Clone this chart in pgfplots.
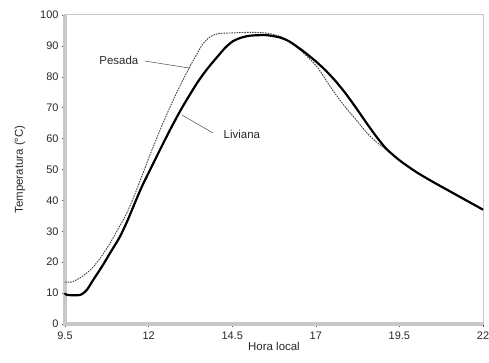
\documentclass[border=0pt]{standalone}
\usepackage{pgfplots}
\pgfplotsset{compat=1.18}
\usepackage{fontspec}
\setmainfont{Liberation Sans}
\definecolor{axgray}{RGB}{200,200,200}
\definecolor{txt}{RGB}{40,40,40}
\begin{document}
\begin{tikzpicture}
\begin{axis}[
  scale only axis,
  width=418bp, height=309bp,
  xmin=9.5, xmax=22, ymin=0, ymax=100,
  xtick={9.5,12,14.5,17,19.5,22},
  xticklabels={9.5,12,14.5,17,19.5,22},
  ytick={0,10,...,100},
  tick align=outside,
  major tick length=3bp,
  tick style={draw=black!70, line width=0.5bp},
  xtick pos=bottom, ytick pos=left,
  axis line style={draw=axgray, line width=1bp},
  /pgf/number format/assume math mode=true,
  ticklabel style={font=\fontsize{11}{12}\selectfont, text=txt},
  xticklabel style={yshift=-1bp},
  label style={font=\fontsize{11.5}{13}\selectfont, text=txt},
  xlabel={Hora local},
  ylabel={Temperatura (°C)},
  xlabel style={yshift=4bp},
  ylabel style={yshift=8bp},
  clip=false,
]
\draw[axgray, line width=4bp] (rel axis cs:0,1) -- (rel axis cs:0,0) -- (rel axis cs:1,0);
\addplot[black!75, line width=0.9bp, dash pattern=on 1.6bp off 1bp, smooth, tension=0.4] coordinates {
(9.5,13.6) (9.7,13.6) (9.95,14.9) (10.15,16.5) (10.34,18.4) (10.6,22) (10.85,26.2)
(11.1,31) (11.35,35.9) (11.6,42.3) (11.83,48.8) (12.1,56.3) (12.43,65) (12.8,74)
(13.18,82.2) (13.45,87.5) (13.63,90.8) (13.85,93) (14.1,94) (14.5,94.2) (15.0,94.4)
(15.5,94.2) (15.9,93.2) (16.2,91.5) (16.6,88) (17.04,83.2) (17.42,77) (17.7,72.8)
(17.95,69.3) (18.25,65.5) (18.53,61.8) (18.8,59) (19.1,56.5) (19.5,53) (20.0,49.2)
(20.5,46) (21.0,43) (21.5,40) (22.0,37)
};
\addplot[black, line width=2.2bp, smooth, tension=0.4] coordinates {
(9.5,10) (9.56,9.4) (9.95,9.4) (10.15,11) (10.34,14.2) (10.6,18.5) (10.85,23)
(11.14,28.2) (11.35,33) (11.59,39.2) (11.8,44.5) (12.04,49.8) (12.3,55.5) (12.64,62.8)
(13.0,70) (13.45,78) (13.75,82.5) (14.05,86.4) (14.3,89.5) (14.52,91.5) (14.75,92.6)
(15.03,93.3) (15.5,93.5) (15.9,92.8) (16.2,91.5) (16.6,88.5) (17.0,85) (17.3,82)
(17.6,78.5) (17.9,74.5) (18.2,70) (18.5,65.3) (18.8,60.8) (19.1,56.8) (19.5,53) (20.0,49.2)
(20.5,46) (21.0,43) (21.5,40) (22.0,37)
};
\draw[black!70, line width=0.5bp] (axis cs:11.89,85.1) -- (axis cs:13.24,82.8);
\node[font=\fontsize{11.5}{13}\selectfont, text=txt] at (axis cs:11.11,85.4) {Pesada};
\draw[black!70, line width=0.5bp] (axis cs:13.93,61.8) -- (axis cs:13.0,67.6);
\node[font=\fontsize{11.5}{13}\selectfont, text=txt] at (axis cs:14.79,61.5) {Liviana};
\end{axis}
\pgfresetboundingbox
\path (current axis.south west) ++(-65bp,-39bp) coordinate (bl);
\path (current axis.north east) ++(6bp,15bp) coordinate (tr);
\path (bl) rectangle (tr);
\end{tikzpicture}
\end{document}
